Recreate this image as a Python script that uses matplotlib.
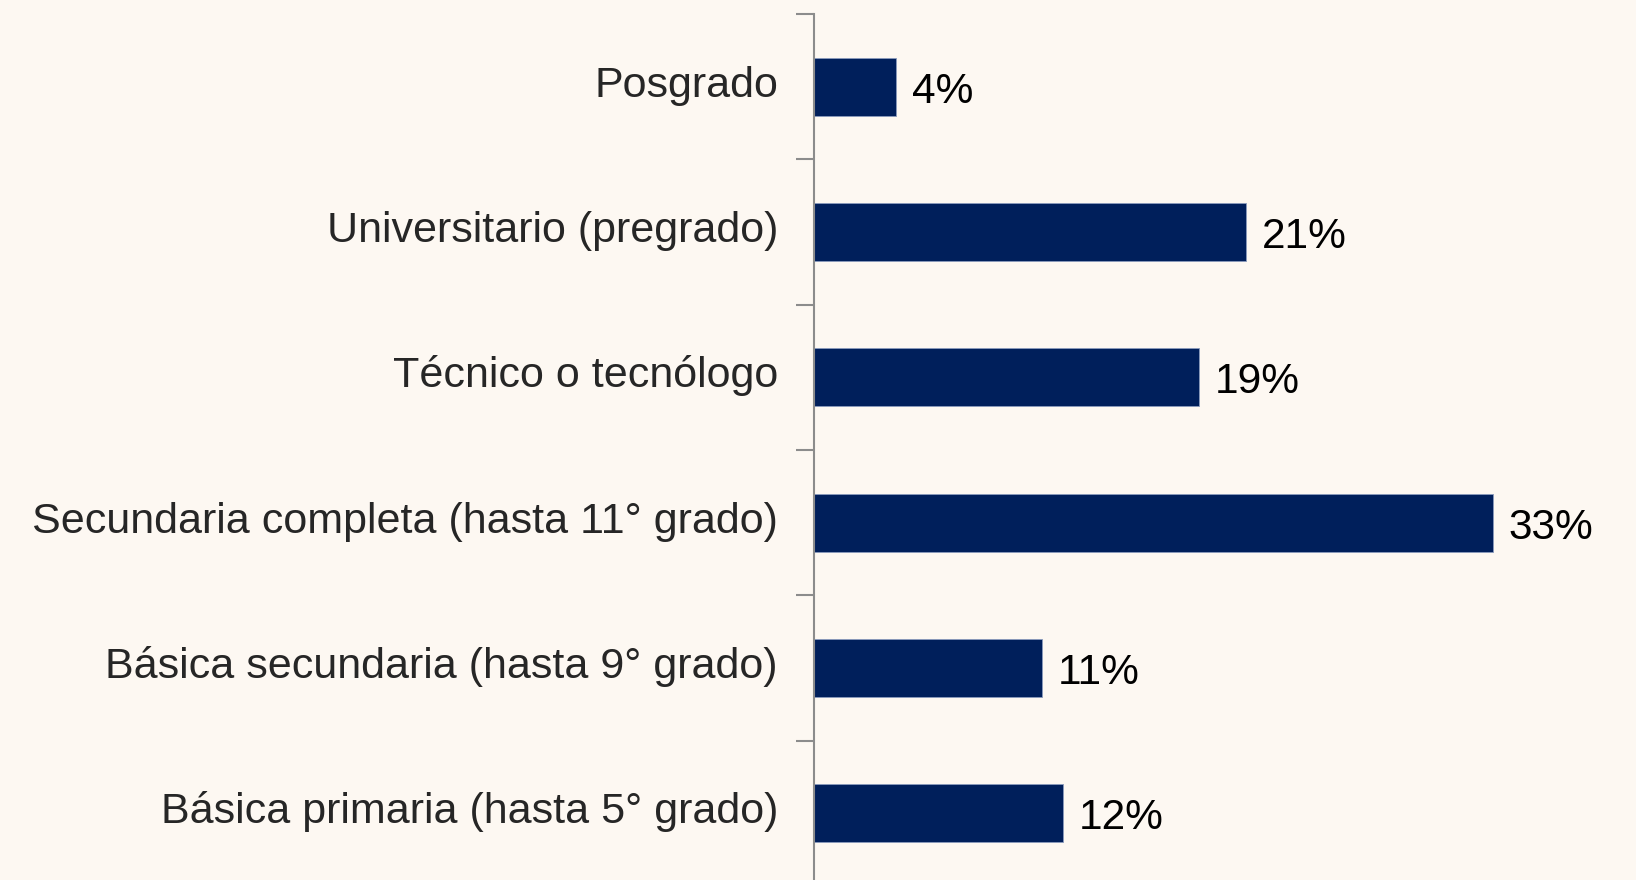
import matplotlib.pyplot as plt
from matplotlib.transforms import ScaledTranslation

# Datos (de abajo hacia arriba)
categorias = ["Básica primaria (hasta 5° grado)",
              "Básica secundaria (hasta 9° grado)",
              "Secundaria completa (hasta 11° grado)",
              "Técnico o tecnólogo",
              "Universitario (pregrado)",
              "Posgrado"]
valores = [12.1, 11.1, 33, 18.7, 21, 4]
etiquetas = ["12%", "11%", "33%", "19%", "21%", "4%"]

fondo = "#FDF8F2"
azul = "#001F5B"

plt.rcParams['font.family'] = ['Liberation Sans', 'DejaVu Sans']

fig = plt.figure(figsize=(16.36, 8.8), dpi=100, facecolor=fondo)
ax = fig.add_axes([814 / 1636, -6 / 880, 1 - 814 / 1636, 872 / 880])
ax.set_facecolor(fondo)

y = range(len(categorias))
ax.barh(y, valores, height=0.4, color=azul, edgecolor="#8a9bbd", linewidth=0.6)

# porcentajes a la derecha de cada barra (linea base bajo el centro)
bajar_val = ScaledTranslation(0, -11.5 / 72, fig.dpi_scale_trans)
for i, v in enumerate(valores):
    ax.text(v + 0.75, i, etiquetas[i], va="baseline", ha="left",
            fontsize=30.5, color="black", transform=ax.transData + bajar_val)

ax.set_xlim(0, 39.94)
ax.set_ylim(-0.5, len(categorias) - 0.5)

# ticks en los bordes de cada categoria
ax.set_yticks([i - 0.5 for i in range(len(categorias) + 1)])
ax.set_yticklabels([])
ax.tick_params(axis="y", which="major", length=13, width=1.5, color="#8c8c8c", direction="out")
ax.set_xticks([])

# etiquetas de categoria
desplazar = ScaledTranslation(-26 / 72, -7.2 / 72, fig.dpi_scale_trans)
trans = ax.get_yaxis_transform() + desplazar
for i, c in enumerate(categorias):
    ax.text(0, i, c, transform=trans, ha="right", va="baseline",
            fontsize=31, color="#262626")

for s in ["top", "right", "bottom"]:
    ax.spines[s].set_visible(False)
ax.spines["left"].set_color("#8c8c8c")
ax.spines["left"].set_linewidth(1.5)

fig.savefig("out.png", dpi=100, facecolor=fondo)
